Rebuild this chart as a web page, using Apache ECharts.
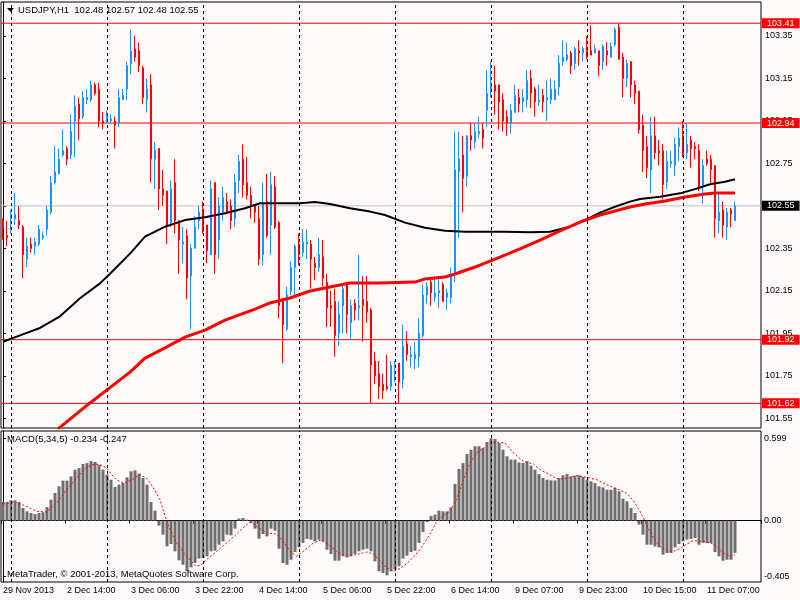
<!DOCTYPE html>
<html>
<head>
<meta charset="utf-8">
<title>USDJPY,H1</title>
<script src="https://cdn.jsdelivr.net/npm/echarts@6/dist/echarts.min.js"></script>
<style>
  html, body { margin: 0; padding: 0; background: #fffafa; }
  #chart { width: 800px; height: 600px; }
</style>
</head>
<body>
<div id="chart"></div>
<script>
var symbol = 'USDJPY,H1'
var copyright = 'MetaTrader, \u00a9 2001-2013, MetaQuotes Software Corp.'
var macdName = 'MACD(5,34,5)'

// bottom time labels, one every 16 bars
var timeLabels = ['29 Nov 2013', '2 Dec 14:00', '3 Dec 06:00', '3 Dec 22:00', '4 Dec 14:00', '5 Dec 06:00',
  '5 Dec 22:00', '6 Dec 14:00', '9 Dec 07:00', '9 Dec 23:00', '10 Dec 15:00', '11 Dec 07:00']

// H1 candles
var opens = [102.48, 102.41, 102.49, 102.49, 102.48, 102.45, 102.30, 102.37, 102.36, 102.37,
  102.40, 102.44, 102.52, 102.66, 102.70, 102.79, 102.82, 102.79, 102.95, 103.03,
  102.97, 103.05, 103.05, 103.12, 103.10, 102.95, 102.95, 102.95, 102.95, 102.94,
  103.05, 103.10, 103.22, 103.29, 103.28, 103.20, 103.05, 103.12, 102.77, 102.82,
  102.63, 102.62, 102.47, 102.66, 102.48, 102.37, 102.41, 102.22, 102.35, 102.48,
  102.53, 102.46, 102.32, 102.66, 102.39, 102.52, 102.57, 102.55, 102.49, 102.67,
  102.77, 102.66, 102.60, 102.55, 102.49, 102.32, 102.57, 102.46, 102.64, 102.47,
  102.10, 101.97, 102.15, 102.26, 102.37, 102.33, 102.37, 102.37, 102.28, 102.26,
  102.31, 102.19, 102.08, 102.10, 101.95, 102.08, 102.18, 102.00, 102.09, 102.07,
  102.11, 102.10, 102.06, 101.82, 101.76, 101.71, 101.70, 101.70, 101.79, 101.81,
  101.73, 101.90, 101.84, 101.83, 101.84, 101.94, 102.13, 102.19, 102.12, 102.14,
  102.18, 102.12, 102.12, 102.23, 102.71, 102.79, 102.69, 102.88, 102.85, 102.89,
  102.91, 103.00, 103.09, 103.12, 103.12, 103.05, 102.97, 102.94, 102.99, 103.06,
  103.04, 103.05, 103.15, 103.10, 103.04, 103.07, 103.05, 103.05, 103.05, 103.11,
  103.23, 103.24, 103.27, 103.22, 103.28, 103.27, 103.28, 103.28, 103.27, 103.28,
  103.23, 103.28, 103.25, 103.31, 103.39, 103.25, 103.15, 103.23, 103.12, 103.09,
  102.93, 102.83, 102.72, 102.88, 102.81, 102.81, 102.66, 102.75, 102.74, 102.83,
  102.88, 102.80, 102.86, 102.83, 102.81, 102.64, 102.77, 102.77, 102.74, 102.48,
  102.53, 102.45, 102.53, 102.48]
var highs = [102.49, 102.48, 102.53, 102.61, 102.55, 102.46, 102.40, 102.40, 102.40, 102.46,
  102.43, 102.55, 102.69, 102.83, 102.82, 102.91, 102.83, 102.98, 103.07, 103.06,
  103.09, 103.10, 103.14, 103.13, 103.13, 102.99, 103.00, 102.98, 102.97, 103.10,
  103.10, 103.23, 103.38, 103.35, 103.32, 103.21, 103.15, 103.17, 102.85, 102.82,
  102.72, 102.62, 102.67, 102.77, 102.48, 102.45, 102.44, 102.37, 102.50, 102.55,
  102.57, 102.46, 102.67, 102.66, 102.59, 102.64, 102.61, 102.58, 102.70, 102.79,
  102.84, 102.78, 102.64, 102.55, 102.55, 102.66, 102.70, 102.71, 102.69, 102.48,
  102.11, 102.17, 102.29, 102.37, 102.42, 102.44, 102.44, 102.39, 102.31, 102.40,
  102.39, 102.23, 102.15, 102.16, 102.10, 102.18, 102.19, 102.11, 102.11, 102.32,
  102.22, 102.22, 102.07, 101.86, 101.82, 101.76, 101.85, 101.82, 101.82, 101.81,
  101.99, 101.96, 101.89, 101.91, 102.02, 102.18, 102.19, 102.20, 102.22, 102.21,
  102.19, 102.16, 102.26, 102.90, 102.90, 102.88, 102.88, 102.94, 102.94, 102.97,
  102.94, 103.19, 103.23, 103.21, 103.12, 103.08, 103.00, 103.03, 103.12, 103.10,
  103.10, 103.19, 103.19, 103.11, 103.12, 103.10, 103.14, 103.15, 103.14, 103.26,
  103.33, 103.32, 103.28, 103.30, 103.33, 103.30, 103.35, 103.40, 103.31, 103.28,
  103.31, 103.32, 103.32, 103.39, 103.41, 103.27, 103.24, 103.23, 103.14, 103.09,
  102.98, 102.88, 102.97, 102.97, 102.86, 102.84, 102.81, 102.81, 102.87, 102.92,
  102.95, 102.94, 102.88, 102.85, 102.84, 102.77, 102.81, 102.79, 102.74, 102.61,
  102.57, 102.54, 102.54, 102.57]
var lows = [102.39, 102.36, 102.42, 102.46, 102.44, 102.21, 102.26, 102.33, 102.32, 102.36,
  102.39, 102.41, 102.51, 102.65, 102.70, 102.78, 102.74, 102.77, 102.78, 102.86,
  102.96, 103.03, 103.04, 103.07, 102.92, 102.91, 102.94, 102.94, 102.82, 102.92,
  103.05, 103.05, 103.17, 103.23, 103.18, 103.03, 102.99, 102.66, 102.63, 102.53,
  102.55, 102.37, 102.45, 102.42, 102.23, 102.28, 102.11, 101.97, 102.35, 102.44,
  102.42, 102.28, 102.32, 102.23, 102.30, 102.48, 102.51, 102.44, 102.45, 102.61,
  102.59, 102.58, 102.49, 102.47, 102.27, 102.27, 102.40, 102.32, 102.44, 102.02,
  101.81, 101.96, 102.13, 102.12, 102.27, 102.31, 102.30, 102.16, 102.20, 102.24,
  102.17, 101.98, 101.98, 101.84, 101.89, 101.95, 101.95, 101.92, 102.01, 102.01,
  101.91, 102.00, 101.62, 101.71, 101.64, 101.64, 101.68, 101.68, 101.72, 101.62,
  101.69, 101.82, 101.79, 101.78, 101.79, 101.93, 102.09, 102.08, 102.10, 102.07,
  102.10, 102.06, 102.09, 102.19, 102.40, 102.52, 102.64, 102.81, 102.82, 102.87,
  102.82, 102.92, 103.06, 102.98, 102.91, 102.90, 102.88, 102.89, 102.99, 102.99,
  102.99, 103.01, 103.01, 102.97, 103.02, 102.99, 102.95, 103.03, 103.05, 103.07,
  103.21, 103.23, 103.17, 103.19, 103.21, 103.23, 103.24, 103.26, 103.27, 103.16,
  103.19, 103.21, 103.25, 103.30, 103.24, 103.06, 103.11, 103.06, 103.03, 102.89,
  102.71, 102.68, 102.61, 102.77, 102.74, 102.58, 102.63, 102.73, 102.69, 102.76,
  102.78, 102.77, 102.73, 102.77, 102.62, 102.56, 102.74, 102.65, 102.40, 102.42,
  102.40, 102.39, 102.45, 102.48]
var closes = [102.44, 102.40, 102.51, 102.51, 102.46, 102.32, 102.36, 102.35, 102.38, 102.44,
  102.41, 102.53, 102.66, 102.71, 102.77, 102.81, 102.77, 102.90, 103.02, 102.96,
  103.06, 103.06, 103.12, 103.08, 102.95, 102.94, 102.98, 102.96, 102.93, 103.06,
  103.07, 103.21, 103.28, 103.25, 103.21, 103.06, 103.10, 102.77, 102.81, 102.63,
  102.60, 102.46, 102.63, 102.48, 102.39, 102.38, 102.21, 102.35, 102.45, 102.52,
  102.43, 102.34, 102.63, 102.32, 102.55, 102.59, 102.52, 102.48, 102.66, 102.76,
  102.65, 102.60, 102.55, 102.52, 102.30, 102.56, 102.41, 102.65, 102.45, 102.08,
  101.99, 102.13, 102.26, 102.36, 102.32, 102.38, 102.38, 102.30, 102.26, 102.32,
  102.21, 102.07, 102.07, 101.94, 102.04, 102.16, 102.04, 102.08, 102.06, 102.08,
  102.08, 102.05, 101.80, 101.75, 101.70, 101.68, 101.69, 101.80, 101.80, 101.72,
  101.89, 101.85, 101.85, 101.85, 101.95, 102.13, 102.17, 102.14, 102.14, 102.15,
  102.10, 102.14, 102.23, 102.72, 102.77, 102.68, 102.88, 102.86, 102.90, 102.90,
  102.87, 103.08, 103.12, 103.09, 103.04, 102.95, 102.94, 103.00, 103.07, 103.03,
  103.06, 103.14, 103.08, 103.04, 103.05, 103.04, 103.06, 103.10, 103.10, 103.22,
  103.25, 103.26, 103.21, 103.29, 103.27, 103.29, 103.25, 103.26, 103.29, 103.21,
  103.30, 103.26, 103.30, 103.38, 103.24, 103.15, 103.22, 103.12, 103.08, 102.91,
  102.81, 102.73, 102.88, 102.80, 102.80, 102.65, 102.76, 102.76, 102.84, 102.87,
  102.79, 102.84, 102.82, 102.82, 102.63, 102.74, 102.75, 102.72, 102.49, 102.52,
  102.46, 102.52, 102.51, 102.55]

// moving averages, [bar index, price]
var blackMa = [[0, 101.91], [4.25, 101.94], [9.25, 101.975], [14.25, 102.03], [19.25, 102.115],
  [24.25, 102.185], [26.75, 102.23], [31.75, 102.325], [35.5, 102.405], [40.5, 102.452],
  [45.5, 102.483], [50.5, 102.496], [55.5, 102.515], [60.5, 102.539], [64.25, 102.562],
  [69.25, 102.562], [74.25, 102.562], [78, 102.568], [81.75, 102.559], [86.75, 102.539],
  [91.75, 102.523], [95.5, 102.507], [100.5, 102.471], [105.5, 102.447], [110.5, 102.433],
  [115.5, 102.428], [125.5, 102.428], [131.75, 102.426], [136.75, 102.428], [141.75, 102.452],
  [145.5, 102.483], [149.25, 102.518], [153, 102.546], [156.75, 102.57], [159.25, 102.582],
  [164.25, 102.593], [169.25, 102.609], [173, 102.629], [176.75, 102.652], [180.5, 102.664],
  [183, 102.675]]
var redMa = [[13.75, 101.50], [21.75, 101.622], [31.75, 101.767], [35.5, 101.833], [40.5, 101.881],
  [45.5, 101.932], [50.5, 101.965], [55.5, 102.012], [63, 102.064], [66.75, 102.093],
  [71.75, 102.116], [76.75, 102.149], [81.75, 102.168], [86.75, 102.187], [94.25, 102.187],
  [103, 102.191], [105.5, 102.206], [110.5, 102.215], [113, 102.229], [118, 102.262],
  [124.25, 102.309], [129.25, 102.347], [134.25, 102.389], [139.25, 102.432], [144.25, 102.474],
  [149.25, 102.507], [156.75, 102.545], [160.5, 102.559], [165.5, 102.573], [170.5, 102.592],
  [175.5, 102.606], [178, 102.611], [183, 102.611]]

// MACD histogram, one value per bar
var macdHist = [0.136, 0.136, 0.148, 0.148, 0.136, 0.092, 0.068, 0.056, 0.048, 0.056,
  0.061, 0.099, 0.153, 0.201, 0.250, 0.291, 0.291, 0.322, 0.371, 0.383,
  0.412, 0.419, 0.434, 0.427, 0.407, 0.371, 0.335, 0.298, 0.245, 0.262,
  0.274, 0.315, 0.359, 0.366, 0.342, 0.310, 0.262, 0.136, 0.073, -0.036,
  -0.102, -0.187, -0.170, -0.223, -0.288, -0.320, -0.368, -0.339, -0.308, -0.276,
  -0.272, -0.259, -0.223, -0.218, -0.175, -0.150, -0.102, -0.107, -0.058, 0.015,
  0.019, 0.007, -0.017, -0.058, -0.131, -0.097, -0.114, -0.058, -0.073, -0.204,
  -0.308, -0.320, -0.284, -0.228, -0.194, -0.162, -0.133, -0.138, -0.150, -0.138,
  -0.150, -0.211, -0.242, -0.291, -0.291, -0.259, -0.267, -0.259, -0.242, -0.223,
  -0.211, -0.204, -0.223, -0.296, -0.368, -0.381, -0.398, -0.368, -0.356, -0.332,
  -0.276, -0.255, -0.228, -0.218, -0.162, -0.082, -0.010, 0.034, 0.044, 0.073,
  0.068, 0.068, 0.097, 0.267, 0.376, 0.419, 0.485, 0.516, 0.541, 0.541,
  0.528, 0.572, 0.599, 0.594, 0.565, 0.516, 0.468, 0.444, 0.444, 0.424,
  0.419, 0.432, 0.400, 0.371, 0.339, 0.310, 0.298, 0.293, 0.293, 0.310,
  0.330, 0.339, 0.322, 0.327, 0.330, 0.318, 0.298, 0.286, 0.274, 0.250,
  0.242, 0.225, 0.225, 0.238, 0.213, 0.160, 0.141, 0.092, 0.056, -0.029,
  -0.102, -0.175, -0.175, -0.187, -0.194, -0.247, -0.235, -0.235, -0.194, -0.170,
  -0.150, -0.138, -0.133, -0.126, -0.175, -0.162, -0.162, -0.162, -0.228, -0.259,
  -0.291, -0.284, -0.284, -0.234]
// MACD signal line, [bar index, value]
var signalPts = [[0, 0.121], [3, 0.136], [5.9, 0.104], [8.4, 0.068], [10.9, 0.063], [13.4, 0.128],
  [15.9, 0.225], [18.4, 0.31], [20.9, 0.388], [23, 0.412], [24.25, 0.407], [25.9, 0.383],
  [27.2, 0.334], [28.4, 0.297], [30.1, 0.273], [32.2, 0.297], [34.25, 0.334], [35.9, 0.31],
  [37.6, 0.238], [39.25, 0.153], [40.5, 0.032], [41.75, -0.065], [43.4, -0.162], [45.9, -0.259],
  [48, -0.325], [49.25, -0.328], [50.9, -0.284], [53.4, -0.223], [55.9, -0.162], [58.4, -0.097],
  [60.9, -0.029], [62, -0.012], [63.4, -0.041], [65.9, -0.09], [68.4, -0.097], [70.1, -0.15],
  [71.75, -0.223], [73.4, -0.259], [75.1, -0.223], [77.6, -0.162], [79.25, -0.143], [80.9, -0.162],
  [83.4, -0.223], [85.9, -0.259], [88.4, -0.247], [90.9, -0.228], [92.6, -0.242], [94.25, -0.291],
  [95.9, -0.344], [97.6, -0.368], [99.25, -0.349], [101.75, -0.291], [104.25, -0.211], [106.75, -0.097],
  [108.4, -0.005], [110.1, 0.039], [111.75, 0.068], [113.4, 0.153], [115.1, 0.298], [116.75, 0.419],
  [118.4, 0.492], [120.1, 0.528], [121.75, 0.565], [123.4, 0.572], [125.5, 0.565], [127.6, 0.492],
  [130.1, 0.431], [132.6, 0.412], [134.25, 0.371], [136.75, 0.334], [138.4, 0.305], [140.9, 0.305],
  [143.4, 0.328], [145.9, 0.315], [148.4, 0.298], [150.9, 0.262], [153.4, 0.233], [155.9, 0.201],
  [157.6, 0.145], [159.25, 0.068], [160.9, -0.029], [162.6, -0.126], [164.25, -0.187], [165.9, -0.218],
  [167.6, -0.223], [169.25, -0.204], [170.9, -0.17], [172.6, -0.145], [175.1, -0.15], [176.75, -0.158],
  [178.4, -0.187], [180.1, -0.235], [181.75, -0.259], [183, -0.247]]

var levelLines = [103.41, 102.94, 101.92, 101.62]
var bidPrice = 102.55
var daySeparators = [2, 26, 50, 74, 98, 122, 146, 170]
var priceTicks = [101.55, 101.75, 101.95, 102.15, 102.35, 102.55, 102.75, 102.95, 103.15, 103.35]
var macdTicks = [0.599, 0, -0.405]

var FONT = '"Liberation Sans", Arial, sans-serif'
var BARS = 190   // bar slots across the pane, last few left empty like MT4's chart shift
var X_MIN = -0.5
var X_MAX = BARS - 0.5

var chart = echarts.init(document.getElementById('chart'))

var categories = []
for (var k = 0; k < BARS; k++) categories.push(String(k))

var candles = opens.map(function (o, i) {
  return [o, closes[i], lows[i], highs[i]]
})

function separatorMarks() {
  return {
    symbol: ['none', 'none'], silent: true, animation: false,
    lineStyle: { color: '#000', type: [3, 3], width: 1 },
    label: { show: false },
    data: daySeparators.map(function (i) { return { xAxis: i } })
  }
}

// a horizontal price level drawn as a two-point line across the pane, tagged at its right end
function levelSeries(value, lineColor, boxColor) {
  return {
    type: 'line', xAxisIndex: 1, yAxisIndex: 0, z: 1, silent: true,
    data: [[X_MIN, value], [X_MAX, value]],
    showSymbol: false, symbol: 'none',
    lineStyle: { color: lineColor, width: 1, type: 'solid' },
    emphasis: { disabled: true },
    endLabel: {
      show: true, distance: 1,
      formatter: function () { return value.toFixed(2) },
      color: '#fff', backgroundColor: boxColor, fontFamily: FONT, fontSize: 9,
      padding: [1, 5, 0, 5], lineHeight: 9
    }
  }
}

var last = opens.length - 1
var header = symbol + '  ' + [opens[last], highs[last], lows[last], closes[last]].map(function (v) { return v.toFixed(2) }).join(' ')
var macdHeader = macdName + ' ' + macdHist[last].toFixed(3) + ' ' + signalPts[signalPts.length - 1][1].toFixed(3)

var series = levelLines.map(function (v) { return levelSeries(v, '#ff0000', '#ff0000') })
series.push(levelSeries(bidPrice, '#c0c0c0', '#000'))
series.push(
  {
    name: symbol, type: 'candlestick', xAxisIndex: 0, yAxisIndex: 0,
    data: candles, barWidth: 2, z: 2,
    itemStyle: { color: '#1e90ff', color0: '#ff0000', borderColor: '#1e90ff', borderColor0: '#ff0000', borderWidth: 1 },
    markLine: separatorMarks()
  },
  {
    name: 'MA black', type: 'line', xAxisIndex: 1, yAxisIndex: 0, data: blackMa,
    showSymbol: false, z: 3, lineStyle: { color: '#000', width: 2 }
  },
  {
    name: 'MA red', type: 'line', xAxisIndex: 1, yAxisIndex: 0, data: redMa,
    showSymbol: false, z: 3, lineStyle: { color: '#ff0000', width: 3 }
  },
  {
    name: 'MACD', type: 'bar', xAxisIndex: 2, yAxisIndex: 1, data: macdHist, barWidth: 3,
    itemStyle: { color: '#6e6e6e' },
    markLine: separatorMarks()
  },
  {
    name: 'Signal', type: 'line', xAxisIndex: 3, yAxisIndex: 1, data: signalPts,
    showSymbol: false, z: 3, lineStyle: { color: '#ff0000', width: 1, type: [2, 2] }
  }
)

var option = {
  animation: false,
  backgroundColor: '#fffafa',
  textStyle: { fontFamily: FONT },
  grid: [
    { left: 1, top: 2, width: 760, height: 426, show: true, borderColor: '#000', borderWidth: 1, backgroundColor: '#fffafa' },
    { left: 1, top: 431, width: 760, height: 151, show: true, borderColor: '#000', borderWidth: 1, backgroundColor: '#fffafa' }
  ],
  xAxis: [
    { type: 'category', gridIndex: 0, data: categories, boundaryGap: true,
      axisLine: { show: false }, axisTick: { show: false }, axisLabel: { show: false }, splitLine: { show: false } },
    { type: 'value', gridIndex: 0, min: X_MIN, max: X_MAX, show: false },
    { type: 'category', gridIndex: 1, data: categories, boundaryGap: true,
      axisLine: { show: true, lineStyle: { color: '#000', width: 1 } },
      axisTick: { show: true, interval: 15, length: 3, lineStyle: { color: '#000' } },
      axisLabel: {
        show: true, interval: 15, align: 'left', margin: 4, color: '#000', fontSize: 9, fontFamily: FONT,
        formatter: function (v, idx) { return timeLabels[idx / 16] || '' }
      },
      splitLine: { show: false } },
    { type: 'value', gridIndex: 1, min: X_MIN, max: X_MAX, show: false }
  ],
  yAxis: [
    { type: 'value', gridIndex: 0, position: 'right', min: 101.504, max: 103.51,
      axisLine: { show: true, lineStyle: { color: '#000' } },
      axisTick: { show: true, length: 3, customValues: priceTicks, lineStyle: { color: '#000' } },
      axisLabel: { customValues: priceTicks, margin: 4, color: '#000', fontSize: 9, fontFamily: FONT,
        formatter: function (v) { return v.toFixed(2) } },
      splitLine: { show: false } },
    { type: 'value', gridIndex: 1, position: 'right', min: -0.446, max: 0.652,
      axisLine: { show: true, lineStyle: { color: '#000' } },
      axisTick: { show: true, length: 3, customValues: macdTicks, lineStyle: { color: '#000' } },
      axisLabel: { customValues: macdTicks, margin: 3, color: '#000', fontSize: 9, fontFamily: FONT,
        formatter: function (v) { return v === 0 ? '0.00' : v.toFixed(3) } },
      splitLine: { show: false } }
  ],
  series: series,
  graphic: [
    { type: 'polygon', shape: { points: [[7, 8], [14, 8], [10.5, 12]] }, style: { fill: '#000' }, z: 10 },
    { type: 'text', left: 18, top: 5, z: 10, style: { text: header, font: '9.5px ' + FONT, fill: '#000' } },
    { type: 'text', left: 7, top: 434, z: 10, style: { text: macdHeader, font: '9.5px ' + FONT, fill: '#000' } },
    { type: 'text', left: 7, top: 569, z: 10, style: { text: copyright, font: '9.5px ' + FONT, fill: '#000' } }
  ]
}

chart.setOption(option)
</script>
</body>
</html>
